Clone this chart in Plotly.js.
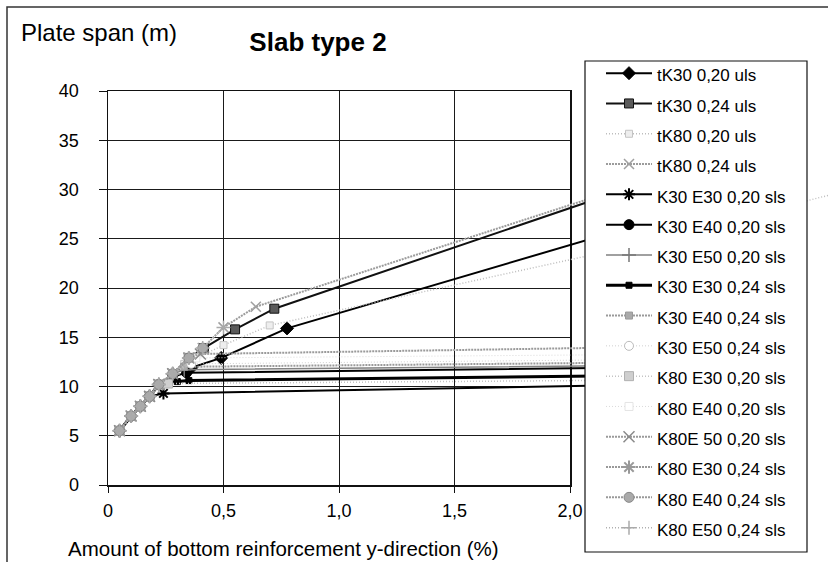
<!DOCTYPE html>
<html><head><meta charset="utf-8">
<script src="https://cdn.plot.ly/plotly-3.0.1.min.js"></script>
<style>html,body{margin:0;padding:0;background:#fff}#chart{width:828px;height:562px}</style>
</head><body><div id="chart"></div>
<script>
// ---------- data ----------
const seriesNames = ["tK30 0,20 uls","tK30 0,24 uls","tK80 0,20 uls","tK80 0,24 uls",
  "K30 E30 0,20 sls","K30 E40 0,20 sls","K30 E50 0,20 sls","K30 E30 0,24 sls",
  "K30 E40 0,24 sls","K30 E50 0,24 sls","K80 E30 0,20 sls","K80 E40 0,20 sls",
  "K80E 50 0,20 sls","K80 E30 0,24 sls","K80 E40 0,24 sls","K80 E50 0,24 sls"];

const xTickVals = [0, 0.5, 1.0, 1.5, 2.0];
const xTickText = ["0", "0,5", "1,0", "1,5", "2,0"];
const yTickVals = [0, 5, 10, 15, 20, 25, 30, 35, 40];
const yTickText = ["0", "5", "10", "15", "20", "25", "30", "35", "40"];

const tK30_020_uls_x = [0.36, 0.49, 0.775, 2.7];
const tK30_020_uls_y = [11.9, 12.9, 15.9, 29.2];
const tK30_024_uls_x = [0.35, 0.415, 0.55, 0.72, 2.8];
const tK30_024_uls_y = [12.9, 13.9, 15.8, 17.9, 34.5];
const tK80_020_uls_x = [0.33, 0.5, 0.7, 2.2, 3.3];
const tK80_020_uls_y = [12.3, 14.2, 16.2, 23.9, 30.5];
const tK80_024_uls_x = [0.05, 0.10, 0.14, 0.18, 0.22, 0.28, 0.35, 0.41, 0.50, 0.64, 2.8];
const tK80_024_uls_y = [5.5, 7.0, 8.0, 9.0, 10.2, 11.3, 12.9, 13.9, 16.0, 18.1, 34.5];

const K30E30_020_x = [0.05, 0.10, 0.14, 0.18, 0.24, 2.6];
const K30E30_020_y = [5.5, 7.0, 8.0, 9.0, 9.3, 10.3];
const K30E40_020_x = [0.05, 0.10, 0.14, 0.18, 0.22, 0.28, 0.34, 2.6];
const K30E40_020_y = [5.5, 7.0, 8.0, 9.0, 10.2, 11.0, 11.4, 12.0];
const K30E50_020_x = [0.05, 0.10, 0.14, 0.18, 0.22, 0.28, 0.33, 2.6];
const K30E50_020_y = [5.5, 7.0, 8.0, 9.0, 10.2, 11.3, 11.7, 12.2];
const K30E30_024_x = [0.05, 0.10, 0.14, 0.18, 0.22, 0.30, 0.35, 2.6];
const K30E30_024_y = [5.5, 7.0, 8.0, 9.0, 10.2, 10.5, 10.6, 11.2];
const K30E40_024_x = [0.05, 0.10, 0.14, 0.18, 0.22, 0.28, 0.33, 2.6];
const K30E40_024_y = [5.5, 7.0, 8.0, 9.0, 10.2, 11.3, 12.0, 12.5];
const K30E50_024_x = [0.05, 0.10, 0.14, 0.18, 0.22, 0.28, 0.36, 2.6];
const K30E50_024_y = [5.5, 7.0, 8.0, 9.0, 10.2, 11.3, 12.3, 12.8];
const K80E30_020_x = [0.05, 0.10, 0.14, 0.18, 0.22, 0.26, 2.6];
const K80E30_020_y = [5.5, 7.0, 8.0, 9.0, 10.2, 10.3, 10.7];
const K80E40_020_x = [0.05, 0.10, 0.14, 0.18, 0.22, 0.28, 0.38, 2.6];
const K80E40_020_y = [5.5, 7.0, 8.0, 9.0, 10.2, 11.3, 12.9, 13.3];
const K80E50_020_x = [0.05, 0.10, 0.14, 0.18, 0.22, 0.28, 0.35, 0.40, 2.6];
const K80E50_020_y = [5.5, 7.0, 8.0, 9.0, 10.2, 11.3, 12.9, 13.3, 14.1];
const K80E30_024_x = [0.05, 0.10, 0.14, 0.18, 0.22, 0.28, 0.35];
const K80E30_024_y = [5.5, 7.0, 8.0, 9.0, 10.2, 11.3, 12.9];
const K80E40_024_x = [0.05, 0.10, 0.14, 0.18, 0.22, 0.28, 0.35, 0.41];
const K80E40_024_y = [5.5, 7.0, 8.0, 9.0, 10.2, 11.3, 12.9, 13.9];
const K80E50_024_x = [0.05, 0.10, 0.14, 0.18, 0.22, 0.28, 0.35, 0.41, 0.50];
const K80E50_024_y = [5.5, 7.0, 8.0, 9.0, 10.2, 11.3, 12.9, 13.9, 16.0];

const seriesX = [tK30_020_uls_x, tK30_024_uls_x, tK80_020_uls_x, tK80_024_uls_x,
  K30E30_020_x, K30E40_020_x, K30E50_020_x, K30E30_024_x, K30E40_024_x, K30E50_024_x,
  K80E30_020_x, K80E40_020_x, K80E50_020_x, K80E30_024_x, K80E40_024_x, K80E50_024_x];
const seriesY = [tK30_020_uls_y, tK30_024_uls_y, tK80_020_uls_y, tK80_024_uls_y,
  K30E30_020_y, K30E40_020_y, K30E50_020_y, K30E30_024_y, K30E40_024_y, K30E50_024_y,
  K80E30_020_y, K80E40_020_y, K80E50_020_y, K80E30_024_y, K80E40_024_y, K80E50_024_y];

// ---------- styles ----------
const styles = [
  {lc:'#000000', lw:2, dash:'solid', sym:'diamond', ms:10, mc:'#000000', mlc:'#000000', mlw:1},
  {lc:'#111111', lw:2, dash:'solid', sym:'square', ms:9, mc:'#5a5a5a', mlc:'#111111', mlw:1},
  {lc:'#bdbdbd', lw:1.5, dash:'1px,2px', sym:'square', ms:7, mc:'#eeeeee', mlc:'#c4c4c4', mlw:1},
  {lc:'#9c9c9c', lw:2, dash:'2px,1px', sym:'x-thin-open', ms:10, mc:'#a0a0a0', mlc:'#a0a0a0', mlw:1.5},
  {lc:'#000000', lw:2, dash:'solid', sym:'asterisk-open', ms:10, mc:'#000000', mlc:'#000000', mlw:2},
  {lc:'#000000', lw:2, dash:'solid', sym:'circle', ms:10, mc:'#000000', mlc:'#000000', mlw:1},
  {lc:'#808080', lw:1.5, dash:'solid', sym:'cross-thin-open', ms:10, mc:'#777777', mlc:'#777777', mlw:1.5},
  {lc:'#000000', lw:3, dash:'solid', sym:'square', ms:6, mc:'#000000', mlc:'#000000', mlw:1},
  {lc:'#9a9a9a', lw:2, dash:'2px,1px', sym:'square', ms:7, mc:'#aaaaaa', mlc:'#999999', mlw:1},
  {lc:'#d0d0d0', lw:1, dash:'1px,2px', sym:'circle', ms:9, mc:'#ffffff', mlc:'#bbbbbb', mlw:1},
  {lc:'#c4c4c4', lw:1.5, dash:'1px,2px', sym:'square', ms:9, mc:'#cfcfcf', mlc:'#b0b0b0', mlw:1},
  {lc:'#dadada', lw:1, dash:'1px,2px', sym:'square', ms:8, mc:'#ffffff', mlc:'#e4e4e4', mlw:1},
  {lc:'#9a9a9a', lw:2, dash:'2px,1px', sym:'x-thin-open', ms:11, mc:'#8a8a8a', mlc:'#8a8a8a', mlw:1.5},
  {lc:'#999999', lw:2, dash:'2px,1px', sym:'asterisk-open', ms:11, mc:'#999999', mlc:'#999999', mlw:2},
  {lc:'#999999', lw:2, dash:'2px,1px', sym:'circle', ms:10, mc:'#aaaaaa', mlc:'#888888', mlw:1},
  {lc:'#b0b0b0', lw:1.5, dash:'1px,2px', sym:'cross-thin-open', ms:10, mc:'#aaaaaa', mlc:'#aaaaaa', mlw:1.5}
];

const FONT = 'Arial, "Liberation Sans", Helvetica, sans-serif';
const W = 828, H = 562;
const px = v => v / W;
const py = v => 1 - v / H;

const traces = [{x: [], y: [], xaxis: 'x', yaxis: 'y', showlegend: false, hoverinfo: 'skip', type: 'scatter'}];
seriesNames.forEach((name, i) => {
  const s = styles[i];
  traces.push({
    type: 'scatter', mode: 'lines+markers',
    name: '<span style="font-size:17px">' + name + '</span>',
    x: seriesX[i], y: seriesY[i], xaxis: 'x2', yaxis: 'y2',
    line: {color: s.lc, width: s.lw, dash: s.dash},
    marker: {symbol: s.sym, size: s.ms, color: s.mc, line: {color: s.mlc, width: s.mlw}}
  });
});

const yDom = [(H - 485) / H, (H - 91) / H];
const layout = {
  width: W, height: H,
  margin: {l: 0, r: 0, t: 0, b: 0},
  paper_bgcolor: '#ffffff', plot_bgcolor: 'rgba(0,0,0,0)',
  font: {family: FONT, color: '#000'},
  showlegend: true,
  title: {text: '<b>Slab type 2</b>', font: {size: 26, family: FONT, color: '#000'},
          x: px(318), xanchor: 'center', xref: 'paper', y: py(42), yanchor: 'middle', yref: 'paper'},
  xaxis: {domain: [px(108), px(570)], range: [0, 2], anchor: 'y',
          tickvals: xTickVals, ticktext: xTickText, tickfont: {size: 18, family: FONT, color: '#000'},
          showgrid: true, gridcolor: '#1a1a1a', gridwidth: 1,
          showline: true, mirror: true, linecolor: '#111', linewidth: 1.5,
          ticks: 'outside', ticklen: 6, tickcolor: '#111', zeroline: false, fixedrange: true,
          ticklabelstandoff: 3},
  yaxis: {domain: yDom, range: [0, 40], anchor: 'x',
          tickvals: yTickVals, ticktext: yTickText, tickfont: {size: 18, family: FONT, color: '#000'},
          showgrid: true, gridcolor: '#1a1a1a', gridwidth: 1,
          showline: true, mirror: true, linecolor: '#111', linewidth: 1.5,
          ticks: 'outside', ticklen: 8, tickcolor: '#111', zeroline: false, fixedrange: true,
          ticklabelstandoff: 16},
  xaxis2: {domain: [px(108), 1], range: [0, 720 / 231], anchor: 'y2', visible: false, fixedrange: true},
  yaxis2: {domain: yDom, range: [0, 40], anchor: 'x2', visible: false, fixedrange: true},
  legend: {x: px(601), xanchor: 'left', y: py(53), yanchor: 'top',
           bgcolor: 'rgba(0,0,0,0)', borderwidth: 0, itemwidth: 46,
           font: {size: 21, family: FONT, color: '#000'}, traceorder: 'normal'},
  shapes: [
    {type: 'rect', xref: 'paper', yref: 'paper', x0: px(7), x1: 1.05, y0: -0.05, y1: py(7),
     line: {color: '#333', width: 1.5}, fillcolor: 'rgba(0,0,0,0)', layer: 'below'},
    {type: 'rect', xref: 'paper', yref: 'paper', x0: px(585), x1: px(807), y0: py(552), y1: py(61),
     line: {color: '#111', width: 1.2}, fillcolor: '#ffffff', layer: 'above'}
  ],
  annotations: [
    {text: 'Plate span (m)', xref: 'paper', yref: 'paper', x: px(19), y: py(33),
     xanchor: 'left', yanchor: 'middle', showarrow: false, font: {size: 24, family: FONT, color: '#000'}},
    {text: 'Amount of bottom reinforcement y-direction (%)', xref: 'paper', yref: 'paper',
     x: px(283.5), y: py(548), xanchor: 'center', yanchor: 'middle', showarrow: false,
     font: {size: 20.5, family: FONT, color: '#000'}}
  ]
};

Plotly.newPlot('chart', traces, layout, {staticPlot: true, displayModeBar: false});
</script>
</body></html>
